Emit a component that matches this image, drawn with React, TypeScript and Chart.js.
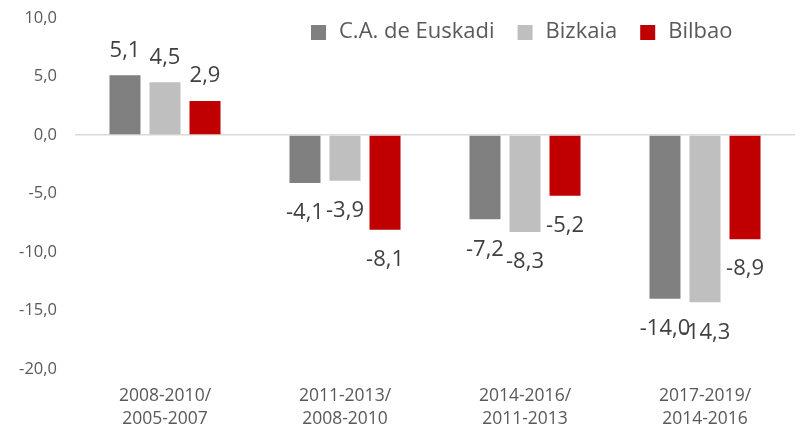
import React, { useEffect, useRef } from "react";
import { Chart, registerables } from "chart.js";

Chart.register(...registerables);

const categories: string[][] = [
  ["2008-2010/", "2005-2007"],
  ["2011-2013/", "2008-2010"],
  ["2014-2016/", "2011-2013"],
  ["2017-2019/", "2014-2016"],
];
const seriesNames = ["C.A. de Euskadi", "Bizkaia", "Bilbao"];
const euskadi = [5.1, -4.1, -7.2, -14.0];
const bizkaia = [4.5, -3.9, -8.3, -14.3];
const bilbao = [2.9, -8.1, -5.2, -8.9];
const seriesColors = ["#808080", "#BFBFBF", "#C00000"];
const yMin = -20;
const yMax = 10;
const yStep = 5;

const FONT = "'Open Sans', 'Noto Sans', sans-serif";
const fmt = (v: number) => v.toFixed(1).replace(".", ",");

const labelPlugin = {
  id: "valueLabels",
  afterDatasetsDraw(chart: any) {
    const ctx = chart.ctx;
    ctx.save();
    ctx.font = `22px ${FONT}`;
    ctx.fillStyle = "#404040";
    ctx.textAlign = "center";
    ctx.textBaseline = "middle";
    chart.data.datasets.forEach((ds: any, di: number) => {
      const meta = chart.getDatasetMeta(di);
      meta.data.forEach((el: any, i: number) => {
        const v = ds.data[i] as number;
        const y = v >= 0 ? el.y - 25 : el.y + 30;
        ctx.fillText(fmt(v), el.x, y);
      });
    });
    ctx.restore();
  },
};

const legendPlugin = {
  id: "customLegend",
  afterDraw(chart: any) {
    const ctx = chart.ctx;
    ctx.save();
    ctx.font = `22px ${FONT}`;
    ctx.textBaseline = "middle";
    let x = 311;
    const yc = 32;
    chart.data.datasets.forEach((ds: any) => {
      ctx.fillStyle = ds.backgroundColor;
      ctx.fillRect(x, yc - 7, 15, 15);
      ctx.fillStyle = "#595959";
      ctx.textAlign = "left";
      ctx.fillText(ds.label, x + 28, yc);
      x += 28 + ctx.measureText(ds.label).width + 23;
    });
    ctx.restore();
  },
};

export default function App() {
  const ref = useRef<HTMLCanvasElement>(null);
  useEffect(() => {
    const datasets = [euskadi, bizkaia, bilbao].map((d, i) => ({
      label: seriesNames[i],
      data: d,
      backgroundColor: seriesColors[i],
      borderWidth: 0,
      categoryPercentage: 0.667,
      barPercentage: 0.775,
    }));
    const chart = new Chart(ref.current!, {
      type: "bar",
      data: { labels: categories as any, datasets },
      options: {
        animation: false,
        responsive: false,
        maintainAspectRatio: false,
        layout: { padding: { top: 18, right: 5, left: 0, bottom: 0 } },
        plugins: { legend: { display: false }, tooltip: { enabled: false } },
        scales: {
          x: {
            grid: { display: false, drawTicks: false },
            border: { display: false },
            ticks: {
              color: "#595959",
              font: { family: FONT, size: 17.5, lineHeight: 1.3 },
              padding: 16,
              maxRotation: 0,
            },
            afterFit: (s: any) => {
              s.height = 59;
            },
          },
          y: {
            min: yMin,
            max: yMax,
            grid: {
              drawTicks: false,
              color: (c: any) => (c.tick && c.tick.value === 0 ? "#D9D9D9" : "rgba(0,0,0,0)"),
              lineWidth: 1.5,
            },
            border: { display: false },
            ticks: {
              stepSize: yStep,
              color: "#595959",
              font: { family: FONT, size: 16.5 },
              padding: 18,
              callback: (v: any) => fmt(Number(v)),
            },
            afterFit: (s: any) => {
              s.width = 75;
              s.paddingTop = 0;
              s.paddingBottom = 0;
            },
          },
        },
      },
      plugins: [labelPlugin, legendPlugin],
    });
    return () => chart.destroy();
  }, []);
  return (
    <div style={{ position: "fixed", left: 0, top: 0, width: 800, height: 428, background: "#fff" }}>
      <canvas ref={ref} width={800} height={428} style={{ width: 800, height: 428 }} />
    </div>
  );
}
